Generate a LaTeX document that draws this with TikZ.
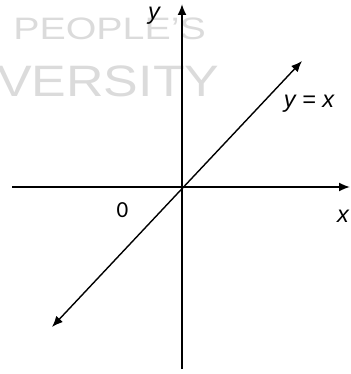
\documentclass[tikz,border=0pt]{standalone}
\usepackage{fontspec}
\setmainfont{Liberation Sans}
\newfontfamily\calib{Carlito}
\usetikzlibrary{arrows.meta}
\begin{document}
\begin{tikzpicture}[x=1pt,y=-1pt,
  axis/.style={line width=1.8pt,-{Latex[length=11pt,width=9pt]}},
  diag/.style={line width=1.4pt,{Latex[length=11pt,width=9pt]}-{Latex[length=11pt,width=9pt]}},
  lbl/.style={inner sep=0pt,anchor=base,font=\fontsize{23.5}{23.5}\selectfont\itshape},
  wm/.style={inner sep=0pt,anchor=base west,text=black!14}]
\useasboundingbox (0,0) rectangle (350,374);
% watermark
\node[wm,font=\fontsize{31}{31}\selectfont,xscale=1.27] (wm1) at (13,40) {PEOPLE'S};
\node[wm,font=\fontsize{44}{44}\selectfont,xscale=1.18] (wm2) at (-3,97) {VERSITY};
% coordinates
\coordinate (xl) at (12,187);
\coordinate (xr) at (350,187);
\coordinate (yb) at (182,369);
\coordinate (yt) at (182,4);
\coordinate (dl) at (52,327);
\coordinate (du) at (302,61);
\draw[axis] (xl) -- (xr);
\draw[axis] (yb) -- (yt);
\draw[diag] (dl) -- (du);
\node[lbl] (ylab) at (154,20) {y};
\node[lbl] (eqlab) at (309,108) {y = x};
\node[lbl] (xlab) at (343,222) {x};
\node[inner sep=0pt,anchor=base,font=\calib\fontsize{23}{23}\selectfont] (zero) at (122.5,217) {0};
\end{tikzpicture}
\end{document}
